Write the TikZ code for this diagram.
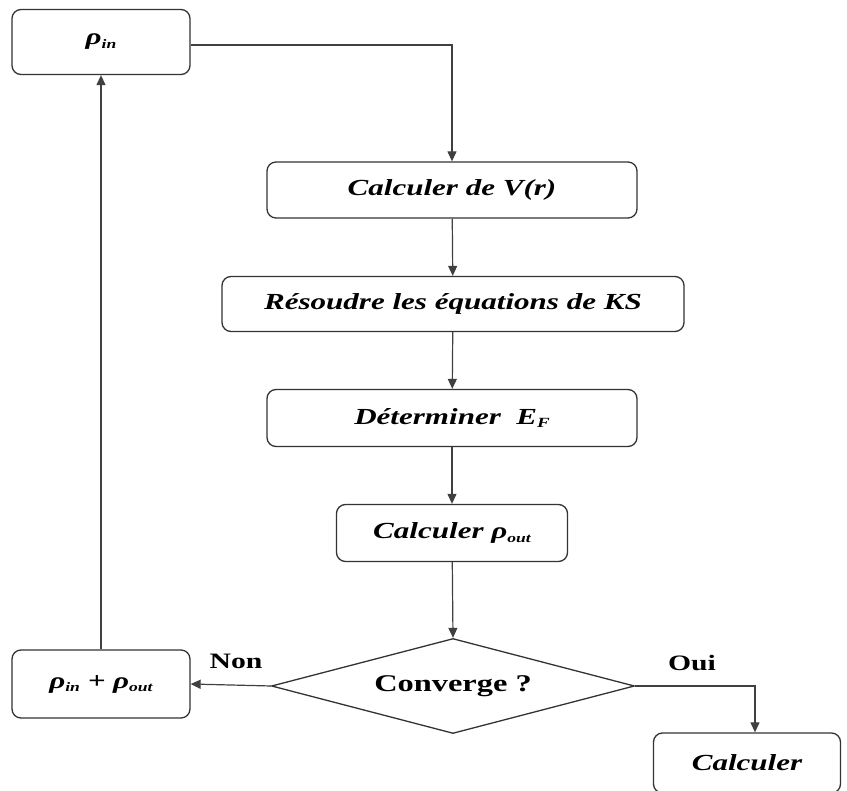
\documentclass[tikz,border=0pt]{standalone}
\usepackage{fontspec}
\setmainfont{Liberation Serif}
\newfontfamily\boxfont[FakeStretch=1.35]{Liberation Serif}
\usetikzlibrary{shapes.geometric,arrows.meta}
% density symbol with a small lowered index
\newcommand{\dens}[1]{ρ\raisebox{-0.35ex}{\fontsize{13}{15}\selectfont #1}}
\begin{document}
\begin{tikzpicture}[x=1pt,y=-1pt,
  box/.style={draw=black!80,line width=1.3pt,rounded corners=9pt,fill=white,inner sep=0pt},
  lbl/.style={font=\boxfont\fontsize{23}{26}\selectfont\bfseries\itshape},
  flow/.style={draw=black!75,line width=1.2pt,-{Triangle[length=10pt,width=9pt]}},
  tag/.style={font=\boxfont\fontsize{22}{25}\selectfont\bfseries}]
\useasboundingbox (0,0) rectangle (847,791);
\node[box,minimum width=178pt,minimum height=65pt,lbl] (rin) at (101,42) {\dens{in}};
\node[box,minimum width=370pt,minimum height=56pt,lbl] (vr) at (452,190) {Calculer de V(r)};
\node[box,minimum width=462pt,minimum height=55pt,lbl] (ks) at (453,304) {Résoudre les équations de KS};
\node[box,minimum width=370pt,minimum height=57pt,lbl] (ef) at (452,418) {Déterminer\ \ E\raisebox{-0.35ex}{\fontsize{14}{16}\selectfont F}};
\node[box,minimum width=231pt,minimum height=57pt,lbl] (rout) at (452,533) {Calculer \dens{out}};
\node[draw=black!80,line width=1.3pt,diamond,aspect=3.8,minimum width=363pt,minimum height=95pt,inner sep=0pt,font=\boxfont\fontsize{24}{27}\selectfont\bfseries] (cv) at (453,686) {Converge ?};
\node[box,minimum width=178pt,minimum height=68pt,lbl] (mix) at (101,684) {\dens{in} + \dens{out}};
\node[box,minimum width=187pt,minimum height=60pt,lbl] (fin) at (747,763) {Calculer};
\coordinate (c1) at (455,45);
\coordinate (c2) at (755,686);
\draw[flow] (rin.east |- c1) -| (vr.north);
\draw[flow] (vr) -- (ks);
\draw[flow] (ks) -- (ef);
\draw[flow] (ef) -- (rout);
\draw[flow] (rout) -- (cv.north);
\draw[flow] (cv.west) -- (mix.east);
\draw[flow] (mix.north) -- (rin.south);
\draw[flow] (cv.east) -| (fin.north -| c2);
\node[tag] (non) at (236,661) {Non};
\node[tag] (oui) at (692,663) {Oui};
\end{tikzpicture}
\end{document}
